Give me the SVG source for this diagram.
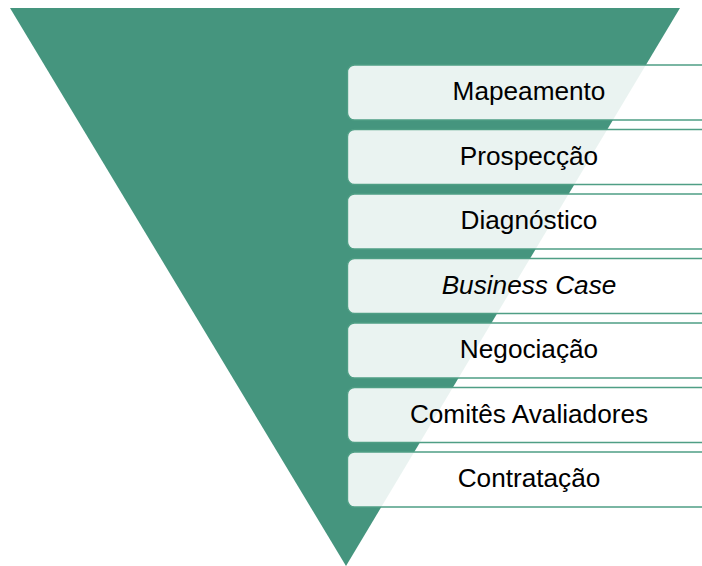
<svg xmlns="http://www.w3.org/2000/svg" width="702" height="566" viewBox="0 0 702 566">
  <style>
    .stage rect { fill: #ffffff; fill-opacity: 0.89; stroke: #4f9e85; stroke-width: 1.4; }
    .stage text { font-family: "Liberation Sans", Arial, sans-serif; font-size: 26.2px; fill: #000000; text-anchor: middle; }
    .it { font-style: italic; }
  </style>
  <rect width="702" height="566" fill="#ffffff"/>
  <g id="funnel">
    <polygon points="10,8 680,8 346,566" fill="#45957e"/>
  </g>
  <g id="connectors"></g>
  <g id="mapeamento" class="stage">
    <rect x="347.5" y="65" width="380" height="55" rx="7"/>
    <text x="529" y="100">Mapeamento</text>
  </g>
  <g id="prospeccao" class="stage">
    <rect x="347.5" y="129.5" width="380" height="55" rx="7"/>
    <text x="529" y="164.5">Prospecção</text>
  </g>
  <g id="diagnostico" class="stage">
    <rect x="347.5" y="194" width="380" height="55" rx="7"/>
    <text x="529" y="229">Diagnóstico</text>
  </g>
  <g id="business-case" class="stage">
    <rect x="347.5" y="258.5" width="380" height="55" rx="7"/>
    <text x="529" y="293.5" class="it">Business Case</text>
  </g>
  <g id="negociacao" class="stage">
    <rect x="347.5" y="323" width="380" height="55" rx="7"/>
    <text x="529" y="358">Negociação</text>
  </g>
  <g id="comites" class="stage">
    <rect x="347.5" y="387.5" width="380" height="55" rx="7"/>
    <text x="529" y="422.5">Comitês Avaliadores</text>
  </g>
  <g id="contratacao" class="stage">
    <rect x="347.5" y="452" width="380" height="55" rx="7"/>
    <text x="529" y="487">Contratação</text>
  </g>
</svg>
